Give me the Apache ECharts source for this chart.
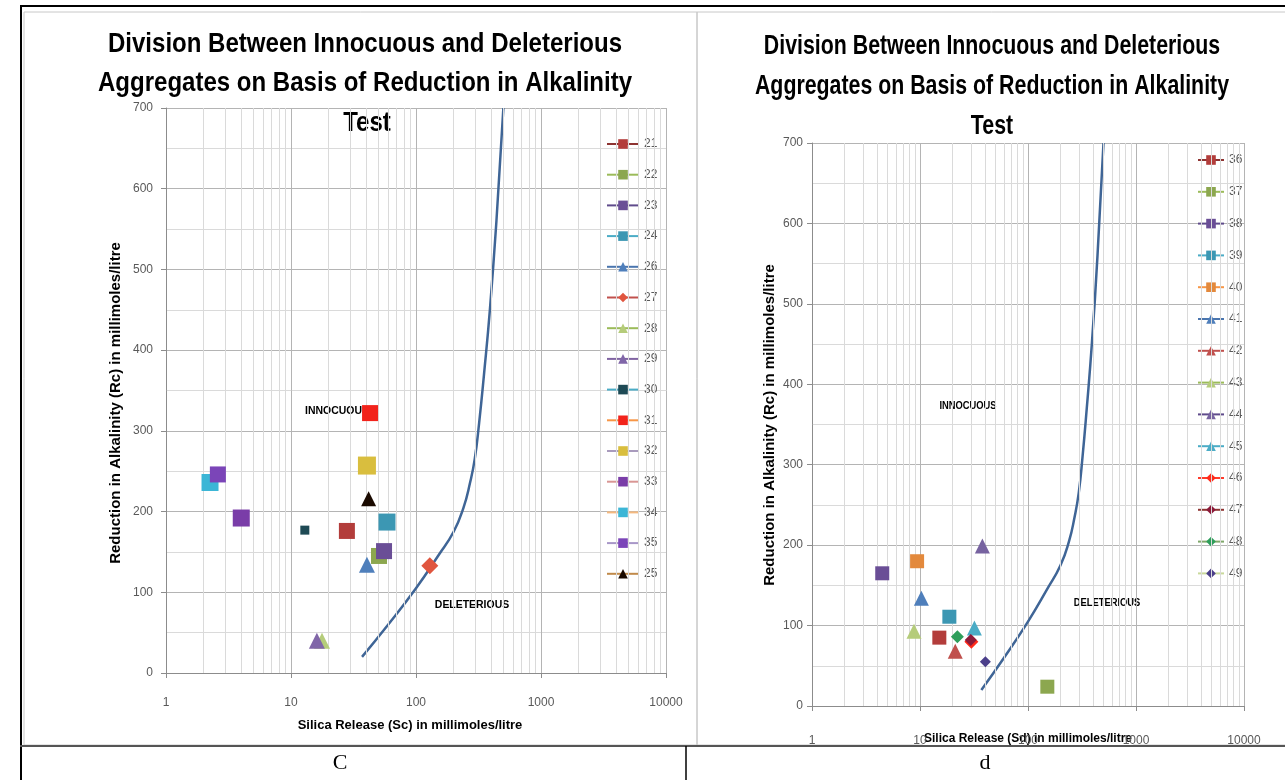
<!DOCTYPE html>
<html><head><meta charset="utf-8">
<script src="https://cdn.jsdelivr.net/npm/echarts@6/dist/echarts.min.js"></script>
<style>html,body{margin:0;padding:0;background:#fff}#c{width:1285px;height:780px}</style>
</head><body><div id="c"></div>
<script>
// ---- data: chart C ----
const leftNames  = ['21','22','23','24','26','27','28','29','30','31','32','33','34','35','25'];
const leftSilica = [28, 50.6, 55.5, 58.6, 40.5, 129, 17.7, 16.1, 12.9, 42.9, 40.5, 4.0, 2.25, 2.6, 41.8];
const leftAlk    = [176, 145, 151, 187, 134, 133, 40, 40, 177, 322, 257, 192, 236, 246, 216];
// ---- data: chart d ----
const rightNames  = ['36','37','38','39','40','41','42','43','44','45','46','47','48','49'];
const rightSilica = [15.1, 151, 4.47, 18.7, 9.4, 10.3, 21.2, 8.8, 37.8, 31.9, 29.9, 29.5, 22.2, 40.3];
const rightAlk    = [85, 24, 165, 111, 180, 134, 68, 93, 199, 97, 80, 82, 86, 55];
// ---- dividing curve ----
const curveSilica = [37, 60, 100, 150, 200, 240, 270, 295, 320, 350, 390, 440, 500];
const curveAlk    = [20, 60, 105, 145, 175, 205, 235, 265, 310, 370, 450, 560, 700];
const xTickLabels = ['1','10','100','1000','10000'];

// ---- styles ----
const leftStyle = {
 '21':{s:'rect',z:16,c:'#B33D3B',l:'#8E3432'}, '22':{s:'rect',z:16,c:'#8CA74F',l:'#9BBB59'},
 '23':{s:'rect',z:16,c:'#6A4E96',l:'#5F4B8B'}, '24':{s:'rect',z:17,c:'#3C97B3',l:'#4BACC6'},
 '26':{s:'triangle',z:16,c:'#4F7FBB',l:'#4A75AE'}, '27':{s:'diamond',z:17,c:'#E0553F',l:'#C0504D'},
 '28':{s:'triangle',z:16,c:'#B5CC7A',l:'#9BBB59'}, '29':{s:'triangle',z:16,c:'#8066A8',l:'#8064A2'},
 '30':{s:'rect',z:9,c:'#1E4A55',l:'#4BACC6'}, '31':{s:'rect',z:16,c:'#F2231B',l:'#F79646'},
 '32':{s:'rect',z:18,c:'#D9BE3E',l:'#A99BBD'}, '33':{s:'rect',z:17,c:'#7A3DA8',l:'#D99694'},
 '34':{s:'rect',z:17,c:'#3CB6D6',l:'#F5B97F'}, '35':{s:'rect',z:16,c:'#7B45B8',l:'#A897C8'},
 '25':{s:'triangle',z:15,c:'#1A0A00',l:'#C08A4A'}
};
const rightStyle = {
 '36':{s:'rect',z:14,c:'#B33D3B',l:'#8E3432'}, '37':{s:'rect',z:14,c:'#8CA74F',l:'#9BBB59'},
 '38':{s:'rect',z:14,c:'#6A4E96',l:'#5F4B8B'}, '39':{s:'rect',z:14,c:'#3C97B3',l:'#4BACC6'},
 '40':{s:'rect',z:14,c:'#E3893C',l:'#F79646'}, '41':{s:'triangle',z:15,c:'#4F7FBB',l:'#4A75AE'},
 '42':{s:'triangle',z:15,c:'#C0504D',l:'#C0504D'}, '43':{s:'triangle',z:15,c:'#B5CC7A',l:'#9BBB59'},
 '44':{s:'triangle',z:15,c:'#7763A0',l:'#5F4B8B'}, '45':{s:'triangle',z:15,c:'#4BACC6',l:'#4BACC6'},
 '46':{s:'diamond',z:14,c:'#FF2A1A',l:'#FF3B2B'}, '47':{s:'diamond',z:12,c:'#8B1A3A',l:'#8E3432'},
 '48':{s:'diamond',z:13,c:'#2E9E5B',l:'#7FA86A'}, '49':{s:'diamond',z:11,c:'#4B3F8A',l:'#C9D99B'}
};

const FONT = '"Liberation Sans",Arial,sans-serif';
const GRID_MAJOR = '#B4B4B4', GRID_MINOR = '#DADADA', AXIS = '#8C8C8C';

function minorXs(){ const a=[]; for(let d=1; d<10000; d*=10){ for(let k=2;k<=9;k++) a.push(k*d); } return a; }

function makeAxes(idx){
  const x = {type:'log', gridIndex:idx, min:1, max:10000, logBase:10,
    axisLine:{show:true,lineStyle:{color:AXIS}}, axisTick:{show:true,length:5,lineStyle:{color:AXIS}},
    axisLabel:{color:'#595959',fontSize:12,fontFamily:FONT,margin: idx===0?24:29,
      formatter:v=>{const s=String(Math.round(v)); return xTickLabels.indexOf(s)>=0?s:'';}},
    splitLine:{show:true,lineStyle:{color:GRID_MAJOR,width:1}}};
  const y = {type:'value', gridIndex:idx, min:0, max:700, interval:100,
    axisLine:{show:true,lineStyle:{color:AXIS}}, axisTick:{show:true,length:5,lineStyle:{color:AXIS}},
    axisLabel:{color:'#595959',fontSize:12,fontFamily:FONT,margin: idx===0?13:9},
    splitLine:{show:true,lineStyle:{color:GRID_MAJOR,width:1}},
    minorTick:{show:false,splitNumber:2}, minorSplitLine:{show:true,lineStyle:{color:GRID_MINOR,width:1}}};
  return {x,y};
}
const a0 = makeAxes(0), a1 = makeAxes(1);

const series = [];
[0,1].forEach(g=>{
  series.push({type:'scatter', xAxisIndex:g, yAxisIndex:g, data:[], silent:true, z:1,
    markLine:{silent:true, symbol:'none', label:{show:false}, animation:false,
      lineStyle:{color:GRID_MINOR,type:'solid',width:1},
      data: minorXs().map(v=>({xAxis:v}))}});
  series.push({type:'line', xAxisIndex:g, yAxisIndex:g, smooth:true, showSymbol:false, silent:true,
    data: curveSilica.map((v,i)=>[v,curveAlk[i]]), lineStyle:{color:'#3F6596',width:2.5}, z:3});
});
function addSeries(names, xs, ys, st, g){
  names.forEach((n,i)=>{
    const s = st[n];
    series.push({name:n, type:'line', xAxisIndex:g, yAxisIndex:g, data:[[xs[i],ys[i]]],
      symbol:s.s, symbolSize:s.z, showSymbol:true, z:5,
      itemStyle:{color:s.c}, lineStyle:{color:s.l,width:2.5}});
  });
}
addSeries(leftNames, leftSilica, leftAlk, leftStyle, 0);
addSeries(rightNames, rightSilica, rightAlk, rightStyle, 1);

function txt(x,y,t,o,extra){ return Object.assign({type:'text', x:x, y:y, silent:true,
  style:Object.assign({text:t, fill:'#000', fontSize:12, fontWeight:'bold', fontFamily:FONT, textAlign:'center', textVerticalAlign:'middle'}, o||{})}, extra||{}); }
function line(x1,y1,x2,y2,c,w){ return {type:'line', silent:true, shape:{x1,y1,x2,y2}, style:{stroke:c,lineWidth:w}}; }

const titleLines = ['Division Between Innocuous and Deleterious','Aggregates on Basis of Reduction in Alkalinity','Test'];
const T = {fontSize:27};
const graphics = [
  // chart frames
  {type:'rect', silent:true, shape:{x:24,y:12,width:673,height:733}, style:{fill:'none',stroke:'#C8C8C8',lineWidth:1}},
  {type:'rect', silent:true, shape:{x:697,y:12,width:590,height:733}, style:{fill:'none',stroke:'#C8C8C8',lineWidth:1}},
  // table lines
  line(20,6,1285,6,'#000',2), line(21,5,21,780,'#000',2),
  line(20,746,1285,746,'#555',2), line(686,746,686,780,'#000',1.5),
  // titles
  txt(365,45,titleLines[0],T,{scaleX:0.89}), txt(365,84,titleLines[1],T,{scaleX:0.89}), txt(367,124,titleLines[2],T,{scaleX:0.89}),
  txt(992,47,titleLines[0],T,{scaleX:0.79}), txt(992,87,titleLines[1],T,{scaleX:0.79}), txt(992,127,titleLines[2],T,{scaleX:0.79}),
  // region labels
  txt(337,411,'INNOCUOUS',{fontSize:11},{scaleX:0.95}), txt(472,605,'DELETERIOUS',{fontSize:11},{scaleX:0.95}),
  txt(968,406,'INNOCUOUS',{fontSize:11},{scaleX:0.85}), txt(1107,603,'DELETERIOUS',{fontSize:11},{scaleX:0.85}),
  // axis titles
  txt(410,725,'Silica Release (Sc) in millimoles/litre',{fontSize:13}),
  txt(1028,739,'Silica Release (Sd) in millimoles/litre',{fontSize:12, backgroundColor:'#fff', padding:[0,1]}),
  txt(116,403,'Reduction in Alkalinity (Rc) in millimoles/litre',{fontSize:15},{rotation:Math.PI/2}),
  txt(770,425,'Reduction in Alkalinity (Rc) in millimoles/litre',{fontSize:15},{rotation:Math.PI/2}),
  // captions
  txt(340,763,'C',{fontSize:22,fontWeight:'normal',fontFamily:'"Liberation Serif",serif'}),
  txt(985,763,'d',{fontSize:22,fontWeight:'normal',fontFamily:'"Liberation Serif",serif'})
];

const chart = echarts.init(document.getElementById('c'), null, {renderer:'canvas'});
chart.setOption({
  animation:false,
  backgroundColor:'#fff',
  grid:[{left:166, top:108, width:500, height:565}, {left:812, top:143, width:432, height:563}],
  xAxis:[a0.x, a1.x], yAxis:[a0.y, a1.y],
  legend:[
    {data:leftNames, orient:'vertical', left:601, top:133, itemWidth:32, itemHeight:12, itemGap:18.7,
     textStyle:{color:'#595959',fontSize:12,fontFamily:FONT}, selectedMode:false},
    {data:rightNames, orient:'vertical', left:1192, top:149, itemWidth:26, itemHeight:12, itemGap:19.8,
     textStyle:{color:'#595959',fontSize:12,fontFamily:FONT}, selectedMode:false}
  ],
  series:series,
  graphic:graphics
});
</script></body></html>
